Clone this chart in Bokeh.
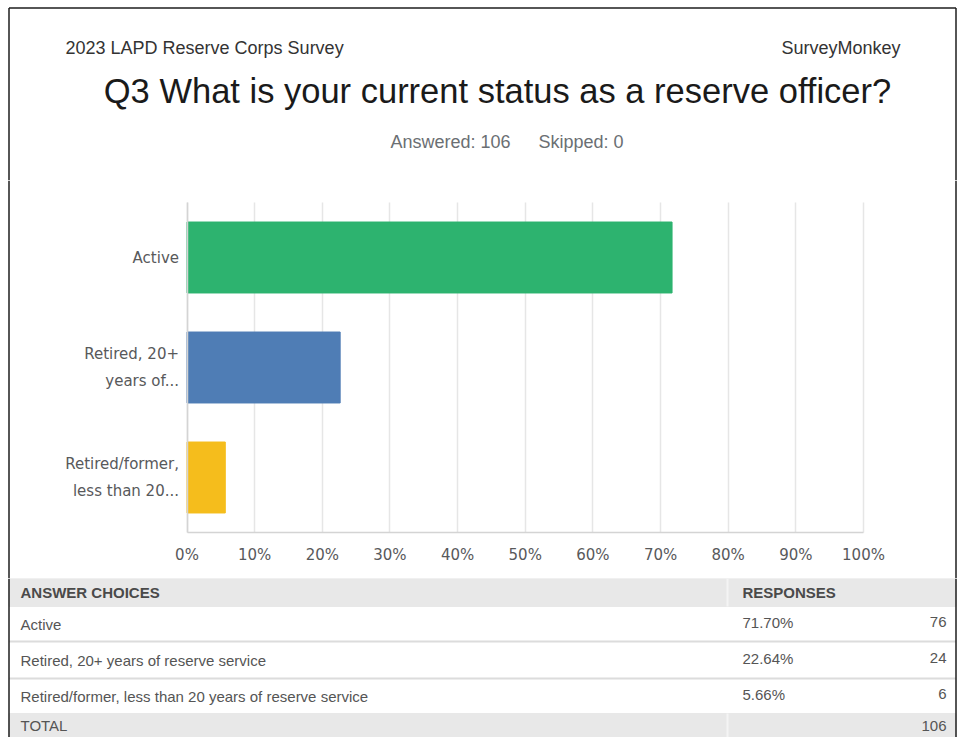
from bokeh.plotting import figure
from bokeh.layouts import column
from bokeh.models import Range1d, FixedTicker, ColumnDataSource, BoxAnnotation
from bokeh.embed import file_html
from bokeh.resources import INLINE
from bokeh.core.properties import value

# ---------------- data ----------------
survey_name = "2023 LAPD Reserve Corps Survey"
brand = "SurveyMonkey"
question = "Q3 What is your current status as a reserve officer?"
answered_text = "Answered: 106"
skipped_text = "Skipped: 0"

choices = [
    "Active",
    "Retired, 20+ years of reserve service",
    "Retired/former, less than 20 years of reserve service",
]
axis_labels = [
    "Active",
    "Retired, 20+\nyears of...",
    "Retired/former,\nless than 20...",
]
percents = [71.70, 22.64, 5.66]
percent_labels = ["71.70%", "22.64%", "5.66%"]
counts = ["76", "24", "6"]
total_label = "TOTAL"
total_count = "106"
bar_colors = ["#2db36f", "#4f7db5", "#f5bd1c"]
x_ticks = [0, 10, 20, 30, 40, 50, 60, 70, 80, 90, 100]
x_tick_labels = ["0%", "10%", "20%", "30%", "40%", "50%", "60%", "70%", "80%", "90%", "100%"]

W = 959
BORDER = "#1e1e1e"
BL, BR = 8.5, 955.5


def blank(width, height, xr, yr):
    f = figure(width=width, height=height, x_range=xr, y_range=yr,
               output_backend="svg", toolbar_location=None,
               x_axis_location=None, y_axis_location=None, min_border=0)
    f.outline_line_color = None
    f.grid.visible = False
    f.background_fill_color = "white"
    f.border_fill_color = "white"
    return f


def vborders(f, height):
    for xl in (BL, BR):
        f.add_layout(BoxAnnotation(left=xl - 0.75, right=xl + 0.75, top=0, bottom=height,
                                   left_units="canvas", right_units="canvas",
                                   top_units="canvas", bottom_units="canvas",
                                   fill_color=BORDER, fill_alpha=1.0, line_color=None,
                                   level="overlay"))


# ---------------- header ----------------
hdr = blank(W, 180, Range1d(0, W), Range1d(180, 0))
hdr.segment(x0=[BL, BL, BR], y0=[7.5, 7.5, 7.5], x1=[BR, BL, BR], y1=[7.5, 180, 180],
            line_color=BORDER, line_width=1.5)
hfont = value("Liberation Sans")
hdr.text(x=[65], y=[47], text=[survey_name], text_baseline="middle", text_align="left",
         text_font=hfont, text_font_size="18px", text_color="#333333")
hdr.text(x=[900], y=[47], text=[brand], text_baseline="middle", text_align="right",
         text_font=hfont, text_font_size="18px", text_color="#333333")
hdr.text(x=[497], y=[90], text=[question], text_baseline="middle", text_align="center",
         text_font=hfont, text_font_size="34.5px", text_color="#1a1a1a")
hdr.text(x=[510], y=[141], text=[answered_text], text_baseline="middle", text_align="right",
         text_font=hfont, text_font_size="18px", text_color="#6b6f73")
hdr.text(x=[538], y=[141], text=[skipped_text], text_baseline="middle", text_align="left",
         text_font=hfont, text_font_size="18px", text_color="#6b6f73")

# ---------------- chart ----------------
CH_H = 398
X0_PX, X100_PX = 186.5, 863.0           # pixel position of 0% and 100%
PX_PER_UNIT = (X100_PX - X0_PX) / 100.0
TOP_PAD_PX, BOT_PAD_PX = 22, 46
BAND_PX = (CH_H - TOP_PAD_PX - BOT_PAD_PX) / len(choices)

n = len(choices)
y_idx = [n - 1 - i for i in range(n)]      # first choice on top
src = ColumnDataSource(dict(y=y_idx, pct=percents, color=bar_colors))

ch = figure(width=W, height=CH_H,
            x_range=Range1d(-X0_PX / PX_PER_UNIT, (W - X0_PX) / PX_PER_UNIT),
            y_range=Range1d(-0.5 - BOT_PAD_PX / BAND_PX, n - 0.5 + TOP_PAD_PX / BAND_PX),
            output_backend="svg", toolbar_location=None, min_border=0)
ch.outline_line_color = None
ch.background_fill_color = "white"
ch.border_fill_color = "white"

ch.xaxis.fixed_location = -0.5
ch.yaxis.fixed_location = 0
ch.xaxis.bounds = (0, 100)
ch.yaxis.bounds = (-0.5, n - 0.5)
ch.xaxis.ticker = FixedTicker(ticks=x_ticks)
ch.xaxis.major_label_overrides = {t: l for t, l in zip(x_ticks, x_tick_labels)}
ch.yaxis.ticker = FixedTicker(ticks=y_idx)
ch.yaxis.major_label_overrides = {y: l for y, l in zip(y_idx, axis_labels)}
for ax in (ch.xaxis, ch.yaxis):
    ax.axis_line_color = "#d4d4d4"
    ax.axis_line_width = 1.5
    ax.major_tick_line_color = None
    ax.minor_tick_line_color = None
    ax.major_tick_out = 0
    ax.major_tick_in = 0
    ax.major_label_text_font = "DejaVu Sans"
    ax.major_label_text_font_size = "15px"
    ax.major_label_text_color = "#58595b"
ch.xaxis.major_label_standoff = 13
ch.yaxis.major_label_standoff = 8
ch.yaxis.major_label_text_line_height = 1.5
ch.ygrid.grid_line_color = None

grid = ch.xgrid[0]
grid.ticker = FixedTicker(ticks=x_ticks)
grid.grid_line_color = "#e6e6e6"
grid.grid_line_width = 1.5
if "cross_bounds" in grid.properties():
    grid.cross_bounds = (-0.5, n - 0.5)
    grid.bounds = (0, 100)
else:
    grid.grid_line_color = None
    ch.segment(x0=x_ticks, y0=[-0.5] * len(x_ticks), x1=x_ticks, y1=[n - 0.5] * len(x_ticks),
               line_color="#e6e6e6", line_width=1.5, level="underlay")

ch.hbar(y="y", right="pct", left=0, height=0.645, color="color", source=src)
vborders(ch, CH_H)

# ---------------- table ----------------
tbl = blank(W, 159, Range1d(0, W), Range1d(737, 578))
row_edges = [578, 606, 641, 678, 713, 737]
tbl.quad(left=[BL, BL], right=[BR, BR], top=[row_edges[0], row_edges[4]],
         bottom=[row_edges[1], row_edges[5]], color="#e8e8e8")
tbl.segment(x0=[727, 727], y0=[row_edges[0], row_edges[4]], x1=[727, 727], y1=[row_edges[1], row_edges[5]],
            line_color="#f4f4f4", line_width=2)
tbl.segment(x0=[BL] * 2, y0=row_edges[2:4], x1=[BR] * 2, y1=row_edges[2:4],
            line_color="#dcdcdc", line_width=2)
tbl.segment(x0=[BL, BR], y0=[578, 578], x1=[BL, BR], y1=[737, 737], line_color=BORDER, line_width=1.5)

centers = [(row_edges[i] + row_edges[i + 1]) / 2 for i in range(5)]
tfont = value("Liberation Sans")
tbl.text(x=[20, 742], y=[centers[0]] * 2, text=["ANSWER CHOICES", "RESPONSES"], text_baseline="middle",
         text_font=tfont, text_font_size="15px", text_font_style="bold", text_color="#4a4a4a")
tbl.text(x=[20] * 4, y=centers[1:5], text=choices + [total_label], text_baseline="middle",
         text_font=tfont, text_font_size="15px", text_color="#555555")
tbl.text(x=[742] * 3, y=[c - 2 for c in centers[1:4]], text=percent_labels, text_baseline="middle",
         text_font=tfont, text_font_size="15px", text_color="#555555")
tbl.text(x=[946] * 4, y=[c - 2 for c in centers[1:4]] + [centers[4]], text=counts + [total_count],
         text_baseline="middle", text_align="right",
         text_font=tfont, text_font_size="15px", text_color="#555555")

layout = column(hdr, ch, tbl, spacing=0)

with open("out.html", "w") as f:
    f.write(file_html(layout, INLINE))
